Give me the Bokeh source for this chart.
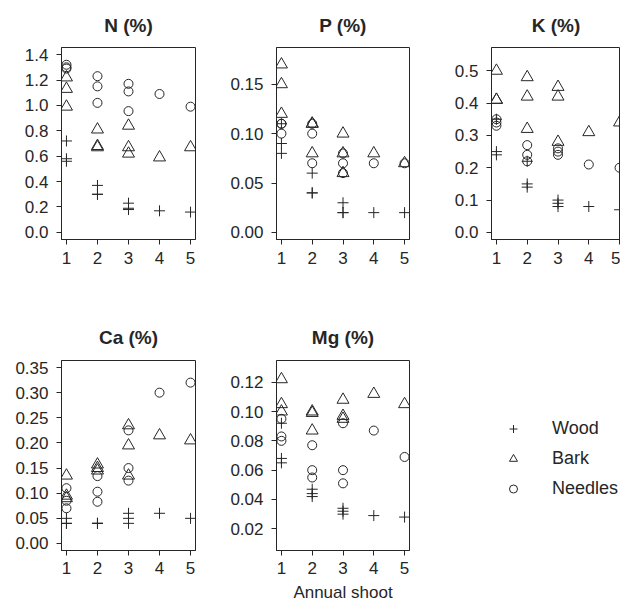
from bokeh.plotting import figure
from bokeh.layouts import column, row
from bokeh.models import Range1d, FixedTicker, NumeralTickFormatter, Legend, LegendItem
from bokeh.embed import file_html
from bokeh.resources import INLINE

# ---- data ----
shoot = [1, 1, 1, 2, 2, 2, 3, 3, 3, 4, 5]
x_ticks = [1, 2, 3, 4, 5]

n_wood = [0.72, 0.58, 0.56, 0.37, 0.30, 0.30, 0.23, 0.19, 0.18, 0.17, 0.16]
n_bark = [1.22, 1.13, 0.99, 0.81, 0.68, 0.67, 0.84, 0.67, 0.62, 0.59, 0.67]
n_needles = [1.32, 1.30, 1.29, 1.23, 1.15, 1.02, 1.17, 1.11, 0.955, 1.09, 0.99]

p_wood = [0.11, 0.09, 0.08, 0.06, 0.04, 0.04, 0.03, 0.02, 0.02, 0.02, 0.02]
p_bark = [0.17, 0.15, 0.12, 0.11, 0.11, 0.08, 0.10, 0.08, 0.06, 0.08, 0.07]
p_needles = [0.11, 0.11, 0.10, 0.11, 0.10, 0.07, 0.08, 0.07, 0.06, 0.07, 0.07]

k_wood = [0.35, 0.25, 0.24, 0.22, 0.15, 0.14, 0.10, 0.09, 0.08, 0.08, 0.07]
k_bark = [0.50, 0.41, 0.41, 0.48, 0.42, 0.32, 0.45, 0.42, 0.28, 0.31, 0.34]
k_needles = [0.35, 0.34, 0.33, 0.27, 0.24, 0.22, 0.26, 0.25, 0.24, 0.21, 0.20]

ca_wood = [0.05, 0.04, 0.04, 0.04, 0.04, 0.04, 0.06, 0.05, 0.04, 0.06, 0.05]
ca_bark = [0.135, 0.095, 0.09, 0.157, 0.15, 0.145, 0.235, 0.195, 0.135, 0.215, 0.205]
ca_needles = [0.11, 0.085, 0.07, 0.134, 0.103, 0.083, 0.225, 0.15, 0.125, 0.30, 0.32]

mg_wood = [0.092, 0.068, 0.065, 0.047, 0.044, 0.042, 0.034, 0.032, 0.030, 0.029, 0.028]
mg_bark = [0.122, 0.105, 0.100, 0.100, 0.099, 0.087, 0.108, 0.097, 0.095, 0.112, 0.105]
mg_needles = [0.095, 0.083, 0.080, 0.077, 0.060, 0.055, 0.092, 0.060, 0.051, 0.087, 0.069]

n_ticks = [0.0, 0.2, 0.4, 0.6, 0.8, 1.0, 1.2, 1.4]
p_ticks = [0.0, 0.05, 0.10, 0.15]
k_ticks = [0.0, 0.1, 0.2, 0.3, 0.4, 0.5]
ca_ticks = [0.0, 0.05, 0.10, 0.15, 0.20, 0.25, 0.30, 0.35]
mg_ticks = [0.02, 0.04, 0.06, 0.08, 0.10, 0.12]

series_labels = ["Wood", "Bark", "Needles"]

# ---- style ----
FONT = "Liberation Sans"
INK = "#262626"
TICK_SIZE = "17px"
XR = (0.84, 5.16)

MARK = dict(
    wood=dict(marker="cross", size=11, line_color=INK, line_width=1),
    bark=dict(marker="triangle", size=12, line_color=INK, fill_color=None, line_width=1),
    needles=dict(marker="circle", size=9, line_color=INK, fill_color=None, line_width=1),
)


def make_panel(title, ylo, yhi, yticks, fmt, wood, bark, needles,
               width, bl, br, height, bt, bb, tstand, xstand, xend=XR[1], xlabel=None):
    p = figure(width=width, height=height,
               x_range=Range1d(XR[0], xend), y_range=Range1d(ylo, yhi),
               output_backend="svg", toolbar_location=None,
               min_border_left=bl, min_border_right=br,
               min_border_top=bt, min_border_bottom=bb)
    p.title.text = title
    p.title.align = "center"
    p.title.text_font = FONT
    p.title.text_font_size = "19px"
    p.title.text_font_style = "bold"
    p.title.text_color = INK
    p.title.standoff = tstand
    p.xgrid.visible = False
    p.ygrid.visible = False
    p.outline_line_color = INK
    p.outline_line_alpha = 1.0
    p.outline_line_width = 1
    p.background_fill_color = "white"
    p.border_fill_color = "white"

    for ax in (p.xaxis[0], p.yaxis[0]):
        ax.axis_line_color = INK
        ax.major_tick_line_color = INK
        ax.minor_tick_line_color = None
        ax.major_tick_in = 0
        ax.major_tick_out = 5
        ax.major_label_text_font = FONT
        ax.major_label_text_font_size = TICK_SIZE
        ax.major_label_text_color = INK
    p.xaxis.ticker = FixedTicker(ticks=x_ticks)
    p.xaxis.major_label_standoff = xstand
    p.yaxis.ticker = FixedTicker(ticks=yticks)
    p.yaxis.formatter = NumeralTickFormatter(format=fmt)
    p.yaxis.major_label_standoff = 8
    if xlabel:
        p.xaxis.axis_label = xlabel
        p.xaxis.axis_label_text_font = FONT
        p.xaxis.axis_label_text_font_size = "17px"
        p.xaxis.axis_label_text_font_style = "normal"
        p.xaxis.axis_label_text_color = INK
        p.xaxis.axis_label_standoff = 6

    p.scatter(shoot, wood, **MARK["wood"])
    p.scatter(shoot, bark, **MARK["bark"])
    p.scatter(shoot, needles, **MARK["needles"])
    return p


H1, BT1, BB1 = 290, 47, 51
H2, BT2, BB2 = 314, 70, 54

px_per_unit = 133 / (XR[1] - XR[0])
k_xend = XR[0] + 129 / px_per_unit

pN = make_panel("N (%)", -0.056, 1.456, n_ticks, "0.0", n_wood, n_bark, n_needles,
                215, 61, 20, H1, BT1, BB1, 24, 7)
pP = make_panel("P (%)", -0.0072, 0.1872, p_ticks, "0.00", p_wood, p_bark, p_needles,
                215, 61, 21, H1, BT1, BB1, 24, 7)
pK = make_panel("K (%)", -0.022, 0.572, k_ticks, "0.0", k_wood, k_bark, k_needles,
                190, 61, 0, H1, BT1, BB1, 24, 7, xend=k_xend)
pCa = make_panel("Ca (%)", -0.014, 0.364, ca_ticks, "0.00", ca_wood, ca_bark, ca_needles,
                 215, 61, 20, H2, BT2, BB2, 26, 6)
pMg = make_panel("Mg (%)", 0.0052, 0.1348, mg_ticks, "0.00", mg_wood, mg_bark, mg_needles,
                 215, 61, 21, H2, BT2, BB2, 26, 6, xlabel="Annual shoot")

# legend panel (renderers carry the Mg series but lie outside this panel's ranges)
pL = figure(width=190, height=H2, output_backend="svg", toolbar_location=None,
            x_axis_type=None, y_axis_type=None, min_border=0,
            x_range=Range1d(-3, -2), y_range=Range1d(-3, -2))
pL.outline_line_color = None
pL.xgrid.visible = False
pL.ygrid.visible = False
pL.background_fill_color = "white"
pL.border_fill_color = "white"
r_w = pL.scatter(shoot, mg_wood, **MARK["wood"])
r_b = pL.scatter(shoot, mg_bark, **MARK["bark"])
r_n = pL.scatter(shoot, mg_needles, **MARK["needles"])
leg = Legend(items=[LegendItem(label=series_labels[0], renderers=[r_w]),
                    LegendItem(label=series_labels[1], renderers=[r_b]),
                    LegendItem(label=series_labels[2], renderers=[r_n])],
             location=(73, 51), padding=0, margin=0, spacing=9,
             glyph_width=20, glyph_height=21, label_height=21,
             label_standoff=29, border_line_color=None, background_fill_alpha=0,
             label_text_font=FONT, label_text_font_size="18px", label_text_color=INK)
pL.add_layout(leg)

layout = column(row(pN, pP, pK), row(pCa, pMg, pL))

with open("out.html", "w") as f:
    f.write(file_html(layout, INLINE))
